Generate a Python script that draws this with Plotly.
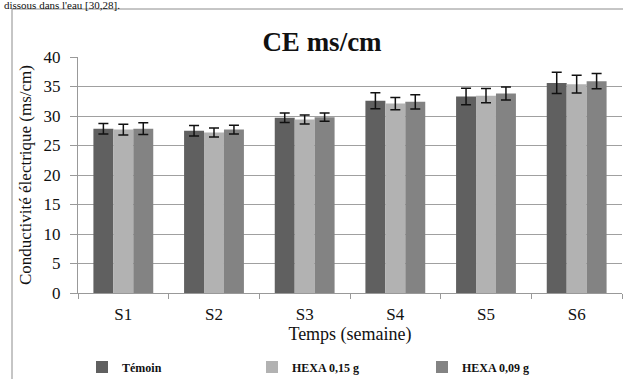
import plotly.graph_objects as go

categories = ["S1", "S2", "S3", "S4", "S5", "S6"]
series_names = ["Témoin", "HEXA 0,15 g", "HEXA 0,09 g"]
temoin = [27.85, 27.5, 29.7, 32.6, 33.3, 35.6]
hexa015 = [27.7, 27.2, 29.4, 32.1, 33.45, 35.4]
hexa009 = [27.85, 27.7, 29.8, 32.4, 33.8, 35.9]
err_temoin = [0.9, 0.9, 0.8, 1.35, 1.4, 1.8]
err_hexa015 = [0.9, 0.75, 0.75, 1.05, 1.2, 1.5]
err_hexa009 = [1.0, 0.75, 0.7, 1.2, 1.1, 1.3]
colors = ["#606060", "#b2b2b2", "#838383"]

serif = "Liberation Serif"

fig = go.Figure()
for name, vals, errs, col in zip(series_names, [temoin, hexa015, hexa009],
                                 [err_temoin, err_hexa015, err_hexa009], colors):
    fig.add_trace(go.Bar(
        x=categories, y=vals, name=f"<b>{name}</b>", marker_color=col, marker_line_width=0,
        error_y=dict(type="data", array=errs, visible=True, color="#111111",
                     thickness=1.5, width=5),
    ))

fig.update_layout(
    width=623, height=379,
    margin=dict(l=78, r=1, t=57, b=86, autoexpand=False),
    paper_bgcolor="white", plot_bgcolor="white",
    barmode="group", bargap=0.34, bargroupgap=0,
    font=dict(family=serif, color="#111111"),
    title=dict(text="<b>CE ms/cm</b>", x=322 / 623, xanchor="center",
               y=1 - 42 / 379, yanchor="middle", font=dict(size=27, family=serif)),
    showlegend=True,
    legend=dict(orientation="h", x=(82 - 78) / 544, xanchor="left", y=-(367 - 293) / 236,
                yanchor="middle", font=dict(size=12, family=serif),
                itemwidth=30, traceorder="normal", entrywidth=125,
                itemsizing="constant"),
    xaxis=dict(
        showline=True, linecolor="#999999", linewidth=1,
        ticks="outside", tickson="boundaries", ticklen=5, tickcolor="#999999",
        tickfont=dict(size=17, family=serif), ticklabelstandoff=6,
        title=dict(text="Temps (semaine)", font=dict(size=18, family=serif), standoff=0),
    ),
    yaxis=dict(
        range=[0, 40], dtick=5, showgrid=True, gridcolor="#a0a0a0", gridwidth=1,
        showline=True, linecolor="#999999", linewidth=1,
        ticks="outside", ticklen=7, tickcolor="#999999",
        tickfont=dict(size=17, family=serif), ticklabelstandoff=6,
        zeroline=False,
        title=dict(text="Conductivité électrique (ms/cm)", font=dict(size=17, family=serif), standoff=7),
    ),
    shapes=[dict(type="rect", xref="paper", yref="paper",
                 x0=-66 / 544, x1=1.2, y0=-0.5, y1=1 + 48 / 236,
                 line=dict(color="#8c8c8c", width=1), layer="below")],
    annotations=[dict(text="dissous dans l'eau [30,28].", xref="paper", yref="paper",
                      x=-76 / 544, xanchor="left",
                      y=1 + 52 / 236, yanchor="middle", showarrow=False,
                      font=dict(size=11, family=serif, color="#111111"))],
)

fig.write_html("out.html", config={"displayModeBar": False},
               post_script="document.body.style.margin='0';document.body.style.overflow='hidden';")
